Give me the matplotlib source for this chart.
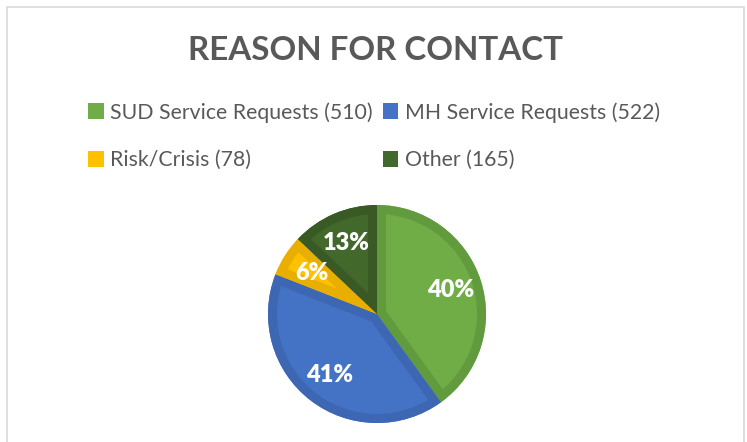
import matplotlib
matplotlib.use("Agg")
import matplotlib.pyplot as plt
from matplotlib.patches import Rectangle, Wedge
import numpy as np

categories = ["SUD Service Requests", "MH Service Requests", "Risk/Crisis", "Other"]
counts = [510, 522, 78, 165]
face_colors = ["#70AD47", "#4472C4", "#FFC000", "#43682B"]
edge_colors = ["#629B3E", "#3E67B3", "#E8AE00", "#3A5A25"]

W, H = 747, 442
fig = plt.figure(figsize=(W / 100, H / 100), dpi=100)
fig.patch.set_facecolor("white")

FONT = "Lato"
GRAY = "#595959"

# chart border
fig.patches.append(Rectangle((7 / W, -0.05), (744 - 7) / W, 1.05 - 7 / H,
                             transform=fig.transFigure, fill=False,
                             edgecolor="#D9D9D9", linewidth=1.2))

fig.text(375 / W, 1 - 50 / H, "REASON FOR CONTACT", ha="center", va="center",
         fontsize=23.9, fontweight="bold", color=GRAY, family=FONT)

cx, cy, r = 377, 314, 109
ax = fig.add_axes([(cx - r) / W, (H - cy - r) / H, 2 * r / W, 2 * r / H])
ax.set_xlim(-1, 1)
ax.set_ylim(-1, 1)
ax.axis("off")

wedges, texts, autotexts = ax.pie(
    counts, colors=face_colors, startangle=90, counterclock=False,
    radius=1, autopct="%1.0f%%", pctdistance=0.71,
    wedgeprops=dict(linewidth=0),
    textprops=dict(color="white", fontsize=17, fontweight="heavy", family=FONT),
)
ax.set_xlim(-1, 1)
ax.set_ylim(-1, 1)

for w, ec in zip(wedges, edge_colors):
    border = Wedge(w.center, w.r, w.theta1, w.theta2, facecolor="none",
                   edgecolor=ec, linewidth=13, joinstyle="miter")
    ax.add_patch(border)
    border.set_clip_path(w)

labels = [f"{c} ({n})" for c, n in zip(categories, counts)]
order = [0, 2, 1, 3]
leg = fig.legend([wedges[i] for i in order], [labels[i] for i in order],
                 ncol=2, loc="upper left", bbox_to_anchor=(88 / W, 1 - 102 / H),
                 frameon=False, handlelength=0.75, handleheight=0.75,
                 handletextpad=0.3, columnspacing=0.45, labelspacing=1.3,
                 borderpad=0, borderaxespad=0,
                 prop=dict(family=FONT, size=15.3))
for t in leg.get_texts():
    t.set_color(GRAY)

fig.savefig("out.png", dpi=100)
